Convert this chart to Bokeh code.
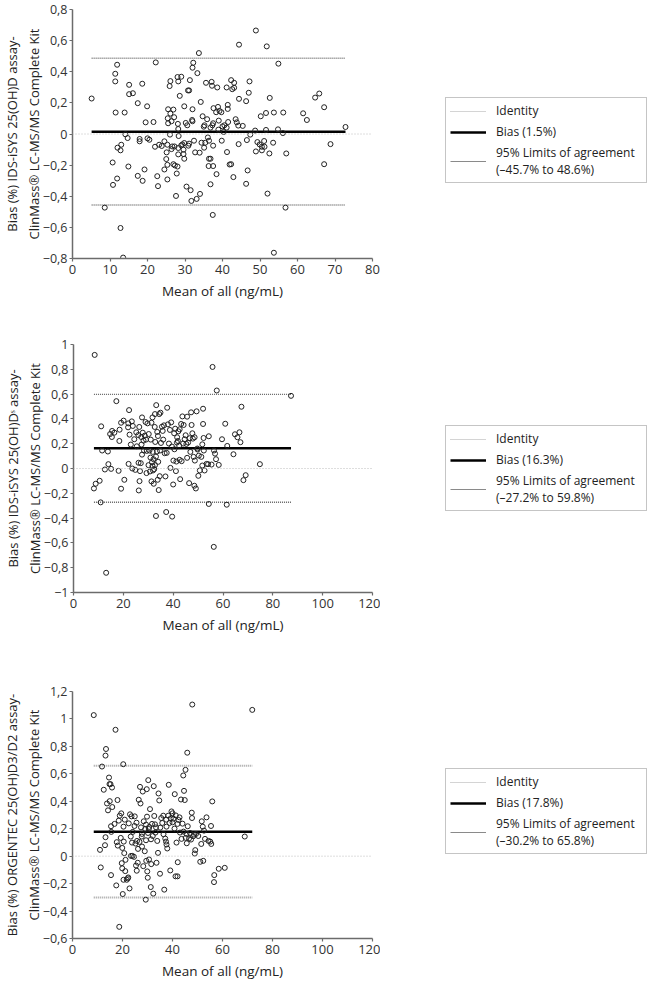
from bokeh.plotting import figure
from bokeh.models import Range1d, FixedTicker, CustomJSTickFormatter, Span, Legend, LegendItem
from bokeh.layouts import column, row
from bokeh.embed import file_html
from bokeh.resources import INLINE

FONT = "Open Sans"

# ---------------- data ----------------
p1_points = [(5.1,0.228),(8.6,-0.473),(10.7,-0.183),(10.8,-0.327),(11.4,0.338),(11.4,0.387),(11.9,0.445),(11.5,0.138),(11.9,-0.286),(12.0,-0.088),(12.8,-0.105),(13.0,-0.069),(12.8,-0.604),(13.5,-0.794),(13.9,0.138),(14.1,-0.002),(14.7,-0.026),(14.9,-0.209),(15.1,0.316),(15.1,0.256),(16.1,0.262),(17.4,0.198),(17.4,-0.269),(17.9,-0.032),(17.9,-0.047),(18.6,0.323),(18.7,-0.301),(19.2,-0.228),(19.5,0.075),(19.9,0.178),(20.0,-0.028),(20.5,-0.037),(21.6,0.077),(22.0,-0.082),(22.2,0.46),(22.6,-0.271),(22.8,-0.335),(23.1,-0.069),(23.8,-0.077),(24.5,-0.047),(24.5,-0.228),(25.0,-0.161),(25.1,-0.118),(25.3,-0.198),(25.3,-0.292),(25.3,-0.069),(25.4,0.101),(25.5,0.159),(25.5,0.069),(25.9,0.308),(26.0,-0.004),(26.1,0.34),(26.1,0.131),(26.4,0.082),(26.4,-0.097),(26.6,-0.080),(26.9,-0.194),(26.9,0.157),(27.1,0.108),(27.2,-0.080),(27.3,-0.202),(27.6,-0.398),(27.8,-0.254),(28.0,-0.209),(28.0,0.366),(28.1,0.065),(28.2,0.338),(28.2,0.032),(28.3,-0.013),(28.2,-0.090),(28.2,-0.131),(28.6,0.245),(29.0,0.368),(29.0,-0.073),(29.3,-0.067),(29.6,-0.101),(29.6,-0.129),(29.8,0.178),(29.8,-0.058),(29.8,-0.159),(30.2,0.071),(30.4,-0.338),(30.6,0.056),(30.8,0.28),(30.9,-0.075),(31.1,0.28),(31.1,-0.062),(31.3,0.346),(31.5,-0.361),(31.7,-0.430),(31.9,0.090),(32.0,0.082),(32.0,0.159),(32.0,0.426),(32.2,0.458),(32.4,-0.043),(32.7,-0.118),(33.1,-0.417),(33.3,0.391),(33.7,0.52),(33.9,-0.120),(34.0,-0.385),(34.2,0.206),(34.4,-0.056),(34.7,0.114),(35.0,0.047),(35.1,-0.088),(35.2,0.056),(35.4,-0.056),(35.6,0.329),(35.9,0.095),(36.1,-0.022),(36.4,-0.043),(36.3,-0.206),(36.4,-0.159),(36.8,-0.159),(36.8,-0.323),(36.8,0.041),(37.1,0.335),(37.2,0.31),(37.3,0.056),(37.5,0.069),(37.5,-0.206),(37.5,-0.075),(37.4,-0.52),(37.6,0.166),(38.3,0.140),(38.4,-0.258),(38.6,0.299),(38.8,0.174),(38.9,0.028),(39.0,0.086),(39.2,0.148),(39.7,0.140),(39.8,-0.043),(40.0,0.049),(40.3,0.013),(40.5,0.056),(41.1,0.299),(41.1,0.041),(41.2,-0.116),(41.4,0.187),(41.4,0.161),(41.5,0.077),(41.9,-0.196),(42.3,0.346),(42.3,-0.194),(42.6,0.288),(42.9,-0.277),(43.1,0.329),(43.1,0.297),(43.5,0.095),(43.8,0.075),(44.2,0.054),(44.3,-0.065),(44.4,0.226),(44.4,0.574),(45.4,0.052),(46.3,0.211),(46.3,-0.320),(46.5,-0.039),(46.7,-0.234),(47.0,0.265),(47.2,0.338),(47.4,-0.004),(48.7,0.022),(48.9,0.665),(48.9,-0.112),(49.3,-0.052),(49.9,-0.067),(50.2,0.114),(50.5,-0.082),(50.5,-0.105),(51.1,-0.045),(51.2,-0.082),(51.6,0.026),(51.6,0.135),(51.8,0.563),(52.0,-0.383),(52.5,-0.125),(52.6,0.232),(53.5,-0.056),(53.7,0.138),(53.7,-0.763),(54.8,0.030),(54.9,0.452),(56.1,0.006),(56.2,0.138),(56.8,-0.473),(57.0,-0.125),(61.5,0.133),(62.5,0.090),(64.7,0.234),(65.8,0.260),(67.1,0.172),(67.1,-0.194),(68.8,-0.065),(72.8,0.045)]

p2_points = [(8.5,0.916),(8.2,-0.161),(8.9,-0.123),(10.5,-0.099),(10.9,-0.273),(11.1,0.340),(11.5,0.145),(12.6,-0.008),(13.1,-0.841),(13.8,0.137),(14.0,0.035),(14.7,0.278),(15.1,-0.003),(15.4,0.254),(15.5,0.303),(16.4,0.289),(17.2,0.543),(18.1,-0.019),(18.4,0.222),(18.5,0.313),(19.1,-0.163),(19.1,0.369),(20.1,0.386),(20.4,-0.091),(21.9,0.332),(22.0,0.364),(22.1,0.037),(22.3,0.471),(22.5,0.273),(23.0,0.193),(23.4,0.380),(23.6,0.000),(23.8,0.343),(24.4,0.236),(24.8,-0.011),(25.2,0.292),(25.4,0.179),(26.0,0.270),(26.2,-0.177),(26.5,-0.102),(26.4,0.335),(26.7,-0.021),(27.0,0.043),(27.2,0.254),(27.5,0.412),(27.5,0.112),(27.8,0.289),(28.1,0.225),(28.3,0.145),(28.6,0.265),(29.1,0.233),(29.3,-0.037),(29.4,0.142),(29.7,0.364),(30.1,0.027),(30.2,0.278),(30.5,0.145),(30.7,-0.024),(31.0,0.233),(31.3,0.369),(31.3,-0.104),(31.5,0.051),(31.7,0.412),(31.8,0.134),(31.9,-0.016),(32.1,0.075),(32.2,-0.123),(32.4,-0.005),(32.6,0.335),(32.7,0.439),(32.8,0.214),(33.1,0.096),(33.1,-0.383),(33.2,0.511),(33.5,0.137),(33.6,0.295),(33.8,-0.091),(33.9,0.262),(34.2,-0.174),(34.4,0.439),(34.6,-0.062),(34.7,0.145),(34.9,0.450),(35.1,0.206),(35.5,0.337),(35.8,0.303),(36.0,0.233),(36.3,0.348),(36.6,0.123),(36.9,-0.064),(37.2,-0.351),(37.4,0.126),(37.6,0.490),(37.9,0.356),(38.3,0.201),(38.7,0.311),(38.9,0.005),(39.2,0.372),(39.5,0.177),(39.6,-0.388),(40.0,-0.129),(40.1,0.064),(40.4,0.284),(40.5,0.155),(40.8,0.321),(41.1,-0.021),(41.3,0.056),(41.5,0.209),(41.6,0.252),(41.9,0.222),(42.1,0.300),(42.4,0.185),(42.6,0.070),(42.8,-0.086),(43.2,0.359),(43.4,0.059),(43.7,0.420),(44.0,0.201),(44.2,0.351),(44.6,0.236),(45.0,0.268),(45.3,0.198),(45.6,0.418),(46.0,0.209),(46.4,-0.118),(46.6,0.244),(46.9,0.134),(47.2,0.453),(47.4,0.351),(47.7,0.284),(47.9,0.241),(48.2,0.094),(48.5,-0.139),(48.6,0.252),(48.7,0.064),(49.1,-0.161),(49.4,0.461),(49.8,0.153),(50.1,-0.059),(50.3,0.104),(50.7,-0.016),(51.3,0.094),(51.7,0.195),(51.7,0.024),(52.0,0.482),(52.0,0.359),(52.2,0.246),(52.3,0.145),(52.6,-0.016),(53.4,0.037),(54.0,0.035),(54.3,0.260),(54.3,-0.286),(55.4,0.032),(55.8,0.819),(56.3,-0.632),(56.4,0.145),(56.8,0.120),(57.2,0.075),(57.5,0.629),(58.3,0.029),(59.6,0.236),(60.9,0.361),(61.5,-0.292),(61.7,0.182),(64.2,0.115),(64.8,0.276),(65.8,0.252),(66.6,0.292),(67.0,0.212),(67.4,0.498),(68.2,-0.094),(69.1,-0.054),(74.8,0.035),(87.3,0.586),(30.9,0.088),(31.7,0.021),(32.7,0.027),(34.0,0.054),(45.6,0.086),(26.1,0.046),(27.3,0.193),(28.9,0.375),(42.6,0.316),(49.7,0.161)]

p3_points = [(8.5,1.028),(11.0,0.046),(11.3,-0.082),(11.8,0.653),(12.5,0.484),(13.0,0.080),(13.2,0.138),(13.2,0.733),(13.4,0.781),(13.8,0.384),(14.2,0.334),(14.6,0.573),(14.8,0.525),(14.9,0.401),(15.2,0.525),(15.4,0.218),(15.4,-0.138),(15.5,0.177),(15.8,0.500),(15.9,0.358),(16.8,0.235),(17.2,0.921),(17.5,-0.213),(17.7,0.102),(18.0,0.409),(18.1,0.077),(18.5,0.259),(18.7,-0.515),(18.9,0.295),(19.3,0.133),(19.5,0.312),(19.7,-0.051),(19.9,-0.089),(19.9,0.060),(20.1,-0.276),(20.3,0.670),(20.4,-0.172),(20.5,0.106),(20.4,0.215),(20.7,0.022),(20.9,0.266),(21.1,-0.109),(21.2,-0.027),(21.7,-0.172),(22.1,-0.162),(22.3,-0.155),(22.8,-0.235),(23.0,0.305),(23.3,0.143),(23.4,0.002),(23.6,0.290),(23.8,0.099),(24.0,0.002),(24.1,0.177),(24.6,-0.005),(24.9,0.290),(25.2,0.092),(25.4,-0.068),(25.6,0.244),(25.7,-0.106),(25.8,0.111),(26.1,-0.048),(26.2,0.053),(26.5,0.411),(26.8,0.104),(27.0,0.505),(27.2,0.384),(27.4,0.210),(27.7,0.143),(27.8,0.070),(28.1,0.471),(28.3,-0.073),(28.5,0.254),(28.9,0.036),(29.1,0.198),(29.3,-0.317),(29.4,0.116),(29.5,-0.034),(29.7,0.488),(29.8,0.288),(29.9,-0.111),(30.1,-0.157),(30.2,0.169),(30.3,0.554),(30.6,-0.024),(30.7,0.213),(31.0,0.343),(31.3,-0.225),(31.4,0.123),(31.5,-0.058),(31.8,0.235),(32.1,0.147),(32.3,-0.273),(32.5,0.510),(32.7,0.293),(33.0,0.232),(33.2,0.172),(33.6,-0.048),(33.9,0.111),(34.2,0.024),(34.4,0.457),(34.7,0.406),(35.0,-0.128),(35.1,0.208),(35.5,0.278),(35.9,0.242),(36.4,0.160),(36.7,-0.244),(37.1,0.128),(37.4,0.106),(37.5,0.266),(37.6,0.085),(37.9,0.056),(38.3,0.295),(38.5,0.520),(38.8,0.242),(39.1,-0.104),(39.3,0.276),(39.6,0.326),(40.0,0.312),(40.4,0.273),(40.8,0.201),(40.9,0.452),(41.2,-0.147),(41.3,0.297),(41.6,0.099),(42.0,-0.147),(42.1,-0.044),(42.4,0.264),(42.8,0.283),(43.0,0.172),(43.4,0.413),(43.6,0.126),(44.0,0.237),(44.3,0.588),(44.4,0.179),(44.6,0.476),(44.9,0.409),(45.2,0.629),(45.3,0.133),(45.6,0.162),(45.7,0.094),(45.9,0.754),(46.1,0.218),(46.6,0.128),(47.0,0.169),(47.4,0.121),(47.7,0.317),(47.8,0.278),(47.9,1.105),(48.3,0.145),(48.6,0.157),(48.9,0.019),(49.1,0.044),(49.4,0.162),(50.3,0.147),(51.1,-0.041),(51.5,0.089),(51.7,0.254),(52.1,0.215),(52.3,-0.034),(52.6,0.186),(53.0,0.126),(53.6,0.283),(54.4,0.111),(55.1,0.106),(55.4,0.220),(55.5,0.089),(55.9,0.399),(56.7,-0.138),(56.6,-0.189),(58.5,-0.092),(60.9,-0.085),(68.9,0.143),(71.9,1.066),(29.4,0.230),(30.5,0.198),(33.4,0.210),(37.6,0.215),(40.0,0.247),(42.0,0.235),(36.3,0.295),(24.8,0.220),(22.5,0.239),(27.8,0.162)]

bias_values = [0.015, 0.163, 0.178]
loa_low = [-0.457, -0.272, -0.302]
loa_high = [0.486, 0.598, 0.658]
bias_labels = ["Bias (1.5%)", "Bias (16.3%)", "Bias (17.8%)"]
loa_labels = ["(\u201345.7% to 48.6%)", "(\u201327.2% to 59.8%)", "(\u201330.2% to 65.8%)"]
y_labels = [
    "Bias (%) IDS-iSYS 25(OH)D assay-\nClinMass\u00ae LC-MS/MS Complete Kit",
    "Bias (%) IDS-iSYS 25(OH)D\u02e2 assay-\nClinMass\u00ae LC-MS/MS Complete Kit",
    "Bias (%) ORGENTEC 25(OH)D3/D2 assay-\nClinMass\u00ae LC-MS/MS Complete Kit",
]
x_label = "Mean of all (ng/mL)"
x_ticks = [[0, 10, 20, 30, 40, 50, 60, 70, 80],
           [0, 20, 40, 60, 80, 100, 120],
           [0, 20, 40, 60, 80, 100, 120]]
y_ticks = [[-0.8, -0.6, -0.4, -0.2, 0, 0.2, 0.4, 0.6, 0.8],
           [-1, -0.8, -0.6, -0.4, -0.2, 0, 0.2, 0.4, 0.6, 0.8, 1],
           [-0.6, -0.4, -0.2, 0, 0.2, 0.4, 0.6, 0.8, 1, 1.2]]

# ---------------- styling / layout ----------------
AXIS_COL = "#6b6b6b"
IDENT_COL = "#bdbdbd"

fmt = CustomJSTickFormatter(code="""
var v = Math.round(tick*10)/10;
var s = String(Math.abs(v)).replace('.', ',');
return (v < 0 ? '\\u2212' : '') + s;
""")

# leg_y: offset of the legend box bottom above the (row-aligned) frame bottom
panel_cfg = [
    dict(h=310, top=9, bottom=52, left=68, leg_y=75, loa_col="#777777", loa_w=1.5),
    dict(h=350, top=34, bottom=68, left=73, leg_y=81, loa_col="#666666", loa_w=1.3),
    dict(h=322, top=31, bottom=41, left=68, leg_y=84, loa_col="#a0a0a0", loa_w=2),
]


def style_axis(ax, label_standoff, tick_standoff, label_size, tick_size):
    ax.axis_line_color = AXIS_COL
    ax.axis_line_width = 1.5
    ax.major_tick_line_color = AXIS_COL
    ax.major_tick_line_width = 1.2
    ax.major_tick_out = 3
    ax.major_tick_in = 0
    ax.minor_tick_line_color = None
    ax.major_label_text_font = FONT
    ax.major_label_text_font_size = tick_size
    ax.major_label_text_color = "#333333"
    ax.major_label_standoff = tick_standoff
    ax.axis_label_text_font = FONT
    ax.axis_label_text_font_size = label_size
    ax.axis_label_text_font_style = "normal"
    ax.axis_label_text_color = "#222222"
    ax.axis_label_standoff = label_standoff
    ax.formatter = fmt


rows = []
for i, pts in enumerate([p1_points, p2_points, p3_points]):
    cfg = panel_cfg[i]
    xs = [p[0] for p in pts]
    ys = [p[1] for p in pts]
    p = figure(width=380, height=cfg["h"],
               x_range=Range1d(x_ticks[i][0], x_ticks[i][-1]),
               y_range=Range1d(y_ticks[i][0], y_ticks[i][-1]),
               output_backend="svg", toolbar_location=None,
               min_border_left=cfg["left"], min_border_right=8,
               min_border_top=cfg["top"], min_border_bottom=cfg["bottom"])
    p.outline_line_color = None
    p.grid.visible = False
    p.xaxis.ticker = FixedTicker(ticks=x_ticks[i])
    p.yaxis.ticker = FixedTicker(ticks=y_ticks[i])
    p.xaxis.axis_label = x_label
    p.yaxis.axis_label = y_labels[i]
    style_axis(p.xaxis[0], 5, 3, "13.5px", "13px")
    style_axis(p.yaxis[0], -3, 2, "13px", "12.5px")

    p.add_layout(Span(location=0, dimension="width", line_color=IDENT_COL,
                      line_dash="1 2", line_width=1))
    x0, x1 = min(xs), max(xs)
    for lv in (loa_low[i], loa_high[i]):
        p.line([x0, x1], [lv, lv], line_color=cfg["loa_col"], line_dash="1 1",
               line_width=cfg["loa_w"])
    p.line([x0, x1], [bias_values[i], bias_values[i]], line_color="black", line_width=2.5)
    p.scatter(xs, ys, marker="circle", size=5, fill_alpha=0,
              line_color="#222222", line_width=1)

    # legend panel (single-point placeholder lines: a line of one point draws nothing)
    lf = figure(width=270, height=cfg["h"], output_backend="svg", toolbar_location=None,
                min_border=0, x_axis_type=None, y_axis_type=None)
    lf.outline_line_color = None
    lf.grid.visible = False
    r_id = lf.line([0], [0], line_color="#a8a8a8", line_dash="1 1", line_width=1)
    r_b = lf.line([0], [0], line_color="black", line_width=2.5)
    r_l = lf.line([0], [0], line_color="#8a8a8a", line_width=1)
    leg = Legend(items=[
        LegendItem(label="Identity", renderers=[r_id]),
        LegendItem(label=bias_labels[i], renderers=[r_b]),
        LegendItem(label="95% Limits of agreement\n" + loa_labels[i], renderers=[r_l]),
    ], location=(65, cfg["leg_y"]))
    leg.label_text_font = FONT
    leg.label_text_font_size = "12px"
    leg.label_text_color = "#222222"
    leg.glyph_width = 36
    leg.glyph_height = 14
    leg.label_height = 14
    leg.label_standoff = 10
    leg.label_width = 146
    leg.spacing = 4
    leg.padding = 4
    leg.border_line_color = "#8c8c8c"
    leg.border_line_width = 1
    leg.background_fill_color = "white"
    leg.background_fill_alpha = 1
    lf.add_layout(leg)
    rows.append(row(p, lf))

layout = column(*rows)
open("out.html", "w").write(file_html(layout, INLINE))
